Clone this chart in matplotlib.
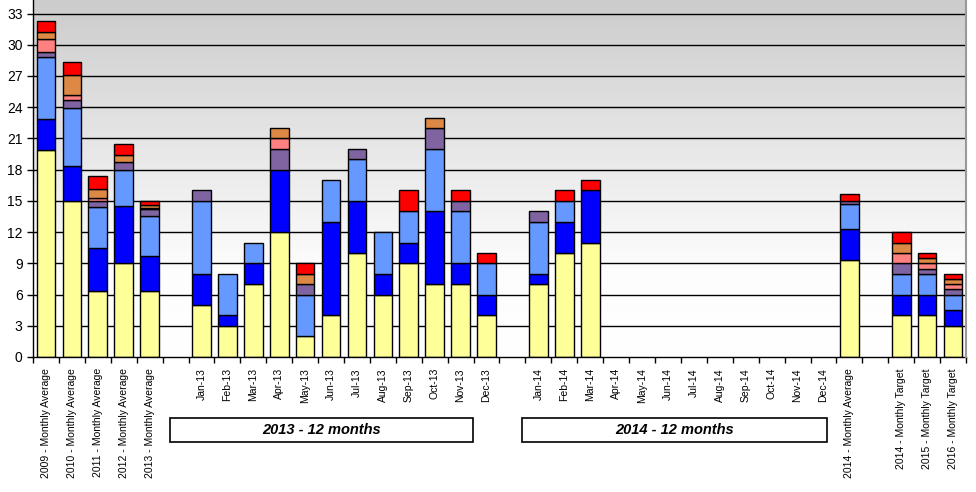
import numpy as np
import matplotlib
matplotlib.use('Agg')
import matplotlib.pyplot as plt
from matplotlib.patches import Rectangle

plt.rcParams['font.family'] = ['Liberation Sans', 'DejaVu Sans']

# Category labels ('' = empty gap column)
months13 = ['Jan-13', 'Feb-13', 'Mar-13', 'Apr-13', 'May-13', 'Jun-13',
            'Jul-13', 'Aug-13', 'Sep-13', 'Oct-13', 'Nov-13', 'Dec-13']
months14 = ['Jan-14', 'Feb-14', 'Mar-14', 'Apr-14', 'May-14', 'Jun-14',
            'Jul-14', 'Aug-14', 'Sep-14', 'Oct-14', 'Nov-14', 'Dec-14']
categories = (['2009 - Monthly Average', '2010 - Monthly Average',
               '2011 - Monthly Average', '2012 - Monthly Average',
               '2013 - Monthly Average', '']
              + months13 + [''] + months14
              + ['2014 - Monthly Average', '',
                 '2014 - Monthly Target', '2015 - Monthly Target',
                 '2016 - Monthly Target'])

# Stacked series, bottom to top (one value per category)
yellow = [19.9, 15.0, 6.3, 9.0, 6.33, 0,
          5, 3, 7, 12, 2, 4, 10, 6, 9, 7, 7, 4, 0,
          7, 10, 11, 0, 0, 0, 0, 0, 0, 0, 0, 0,
          9.33, 0, 4, 4, 3]
blue = [2.95, 3.35, 4.15, 5.55, 3.42, 0,
        3, 1, 2, 6, 0, 9, 5, 2, 2, 7, 2, 2, 0,
        1, 3, 5, 0, 0, 0, 0, 0, 0, 0, 0, 0,
        3.0, 0, 2, 2, 1.5]
light_blue = [5.95, 5.55, 4.0, 3.45, 3.83, 0,
              7, 4, 2, 0, 4, 4, 4, 4, 3, 6, 5, 3, 0,
              5, 2, 0, 0, 0, 0, 0, 0, 0, 0, 0, 0,
              2.33, 0, 2, 2, 1.5]
purple = [0.55, 0.75, 0.5, 0.75, 0.67, 0,
          1, 0, 0, 2, 1, 0, 1, 0, 0, 2, 1, 0, 0,
          1, 0, 0, 0, 0, 0, 0, 0, 0, 0, 0, 0,
          0.33, 0, 1, 0.5, 0.5]
pink = [1.25, 0.55, 0.3, 0.0, 0.08, 0,
        0, 0, 0, 1, 0, 0, 0, 0, 0, 0, 0, 0, 0,
        0, 0, 0, 0, 0, 0, 0, 0, 0, 0, 0, 0,
        0, 0, 1, 0.5, 0.5]
orange = [0.6, 1.85, 0.85, 0.65, 0.25, 0,
          0, 0, 0, 1, 1, 0, 0, 0, 0, 1, 0, 0, 0,
          0, 0, 0, 0, 0, 0, 0, 0, 0, 0, 0, 0,
          0, 0, 1, 0.5, 0.5]
red = [1.05, 1.25, 1.25, 1.05, 0.42, 0,
       0, 0, 0, 0, 1, 0, 0, 0, 2, 0, 1, 1, 0,
       0, 1, 1, 0, 0, 0, 0, 0, 0, 0, 0, 0,
       0.67, 0, 1, 0.5, 0.5]

series = [yellow, blue, light_blue, purple, pink, orange, red]
colors = ['#FFFF99', '#0000FF', '#6699FF', '#8064A2', '#FF8080', '#DD8844', '#FF0000']

# Group label boxes: text, first / last category, box edges relative to those bar centres
groups = [('2013 - 12 months', 'Jan-13', 'Dec-13', -1.22, -0.52),
          ('2014 - 12 months', 'Jan-14', 'Dec-14', -0.62, 0.13)]

fig = plt.figure(figsize=(9.76, 4.92), dpi=100)
ax = fig.add_axes([33 / 976, 1 - 357 / 492, 933 / 976, 357 / 492])

n = len(categories)
x = np.arange(n)
ax.set_xlim(-0.5, n - 0.5)
ax.set_ylim(0, 34.3)

# grey-to-white background gradient
grad = np.linspace(0, 1, 256).reshape(-1, 1)
cmap = matplotlib.colors.LinearSegmentedColormap.from_list(
    'bg', [(0, '#FFFFFF'), (0.25, '#FDFDFD'), (1, '#CCCCCC')])
ax.imshow(grad, aspect='auto', cmap=cmap, origin='lower',
          extent=[0, 1, 0, 1], transform=ax.transAxes, zorder=0)

for yv in range(3, 34, 3):
    ax.axhline(yv, color='black', lw=1.0, zorder=1)

bottom = np.zeros(n)
for vals, col in zip(series, colors):
    vals = np.array(vals, dtype=float)
    mask = vals > 0
    ax.bar(x[mask], vals[mask], bottom=bottom[mask], width=0.72,
           color=col, edgecolor='black', linewidth=1.0, zorder=2)
    bottom += vals

ax.set_yticks(range(0, 34, 3))
ax.tick_params(axis='y', labelsize=10, length=4, width=1, direction='out')

# tick marks between categories, labels at centres
ax.set_xticks(np.arange(-0.5, n, 1.0))
ax.set_xticklabels([])
ax.set_xticks(x, minor=True)
ax.set_xticklabels(categories, minor=True, rotation=90, fontsize=7.5)
ax.tick_params(axis='x', which='major', length=4, width=1, direction='out')
ax.tick_params(axis='x', which='minor', length=0, pad=8)

for side in ['top', 'right']:
    ax.spines[side].set_visible(False)
ax.spines['left'].set_linewidth(1.0)
ax.spines['bottom'].set_linewidth(1.0)
ax.plot([1, 1], [0, 1], transform=ax.transAxes, color='#999999', lw=1.5,
        clip_on=False, zorder=3)

# boxed group labels below the month ticks
for text, first, last, lpad, rpad in groups:
    i0 = categories.index(first)
    i1 = categories.index(last)
    x0 = ax.transData.transform((i0 + lpad, 0))[0]
    x1 = ax.transData.transform((i1 + rpad, 0))[0]
    fx0, fx1 = x0 / 976, x1 / 976
    fig.patches.append(Rectangle((fx0, 1 - 441.5 / 492), fx1 - fx0, 23.5 / 492,
                                 transform=fig.transFigure, fill=False,
                                 edgecolor='black', lw=1.2))
    fig.text((fx0 + fx1) / 2, 1 - 430 / 492, text, ha='center', va='center',
             fontsize=10.5, fontweight='bold', fontstyle='italic')

fig.savefig('out.png', dpi=100)
